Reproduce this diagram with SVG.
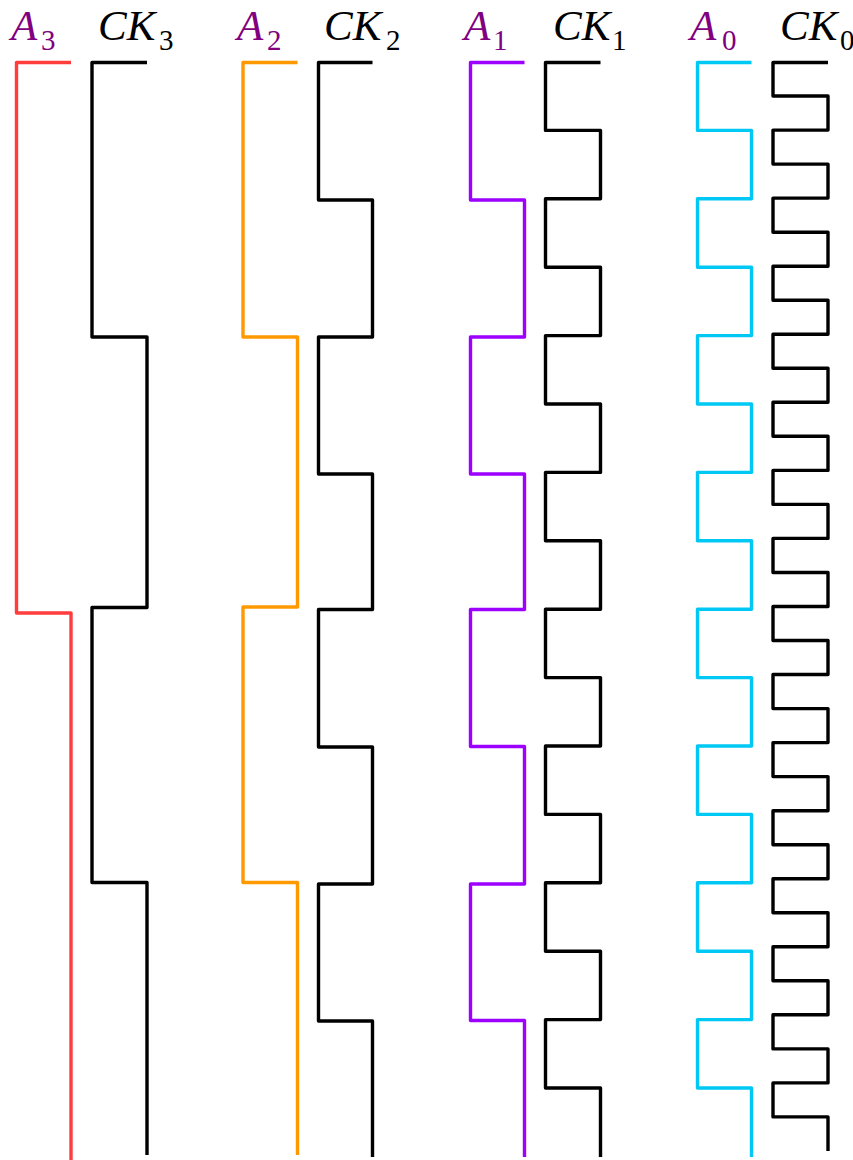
<svg xmlns="http://www.w3.org/2000/svg" width="853" height="1160" viewBox="0 0 853 1160">
<style>
.w{fill:none;stroke-width:3.4;stroke-linejoin:round;stroke-linecap:butt}
.k{stroke:#000}
.lbl{font-family:"Liberation Serif","Times New Roman",serif;font-style:italic;font-size:43px}
.sub{font-family:"Liberation Serif","Times New Roman",serif;font-style:normal;font-size:29px}
.pa{fill:#800080}
.pk{fill:#000}
</style>
<rect width="853" height="1160" fill="#fff"/>
<g id="labels">
<text class="lbl pa" x="11" y="40">A</text><text class="sub pa" x="41" y="50">3</text>
<text class="lbl pk" x="98" y="40">CK</text><text class="sub pk" x="159" y="50">3</text>
<text class="lbl pa" x="237" y="40">A</text><text class="sub pa" x="267" y="50">2</text>
<text class="lbl pk" x="324" y="40">CK</text><text class="sub pk" x="386" y="50">2</text>
<text class="lbl pa" x="464" y="40">A</text><text class="sub pa" x="493" y="50">1</text>
<text class="lbl pk" x="553" y="40">CK</text><text class="sub pk" x="612" y="50">1</text>
<text class="lbl pa" x="690" y="40">A</text><text class="sub pa" x="722" y="50">0</text>
<text class="lbl pk" x="780" y="40">CK</text><text class="sub pk" x="840" y="50">0</text>
</g>
<g id="waveforms">
<g id="A3"><path class="w" stroke="#ff3d3d" d="M71,62.5 H16.5 V613 H71 V1160"/></g>
<g id="CK3"><path class="w k" d="M147,62.5 H92 V337 H147 V607.5 H92 V882.5 H147 V1155"/></g>
<g id="A2"><path class="w" stroke="#ff9900" d="M297.5,62.5 H243 V337 H297.5 V607 H243 V882.5 H297.5 V1155"/></g>
<g id="CK2"><path class="w k" d="M372.5,62.5 H318.5 V200 H372.5 V337 H318.5 V474 H372.5 V609.5 H318.5 V747 H372.5 V884 H318.5 V1021 H372.5 V1157"/></g>
<g id="A1"><path class="w" stroke="#9d00ff" d="M524.5,62.5 H470.5 V200 H524.5 V337 H470.5 V474 H524.5 V609.5 H470.5 V746.5 H524.5 V884 H470.5 V1020.5 H524.5 V1157"/></g>
<g id="CK1"><path class="w k" d="M600.5,62.5 H545.5 V130.4 H600.5 V198.8 H545.5 V267.2 H600.5 V335.6 H545.5 V404 H600.5 V472.4 H545.5 V540.8 H600.5 V609.2 H545.5 V677.6 H600.5 V746 H545.5 V814.4 H600.5 V882.8 H545.5 V951.2 H600.5 V1019.6 H545.5 V1088 H600.5 V1157"/></g>
<g id="A0"><path class="w" stroke="#00c8f5" d="M751.5,62.5 H697.5 V130.4 H751.5 V198.8 H697.5 V267.2 H751.5 V335.6 H697.5 V404 H751.5 V472.4 H697.5 V540.8 H751.5 V609.2 H697.5 V677.6 H751.5 V746 H697.5 V814.4 H751.5 V882.8 H697.5 V951.2 H751.5 V1019.6 H697.5 V1088 H751.5 V1157"/></g>
<g id="CK0"><path class="w k" d="M828,62.5 H773 V96 H828 V130.1 H773 V164.1 H828 V198.1 H773 V232.2 H828 V266.2 H773 V300.2 H828 V334.2 H773 V368.3 H828 V402.3 H773 V436.3 H828 V470.4 H773 V504.4 H828 V538.4 H773 V572.5 H828 V606.5 H773 V640.5 H828 V674.5 H773 V708.6 H828 V742.6 H773 V776.6 H828 V810.7 H773 V844.7 H828 V878.7 H773 V912.8 H828 V946.8 H773 V980.8 H828 V1014.8 H773 V1048.9 H828 V1082.9 H773 V1116.9 H828 V1151"/></g>
</g>
</svg>
